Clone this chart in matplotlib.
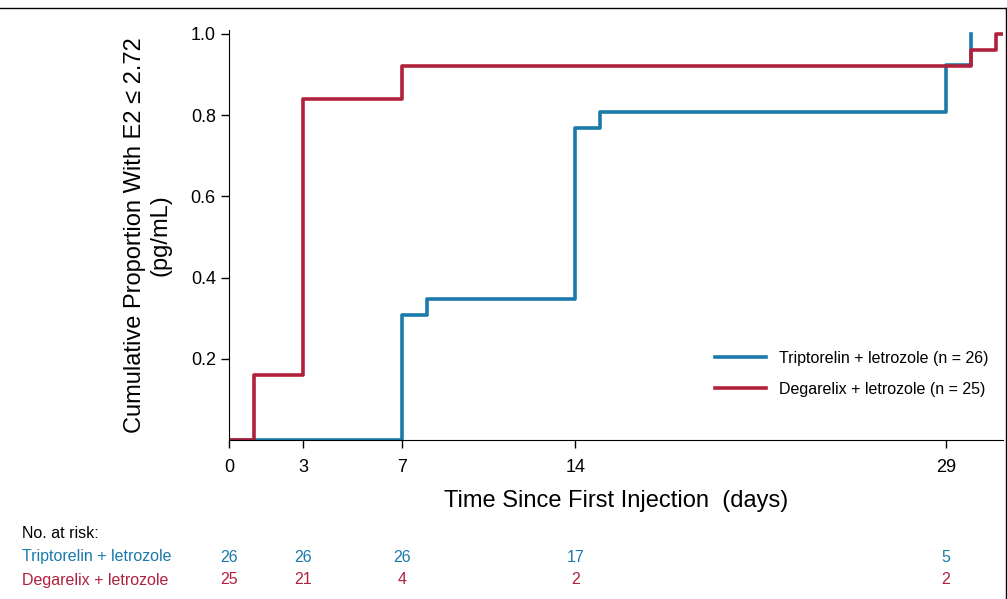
import matplotlib.pyplot as plt
from matplotlib.lines import Line2D
from matplotlib.transforms import blended_transform_factory

plt.rcParams['font.family'] = ['Liberation Sans', 'DejaVu Sans']

# step data (time in days, cumulative proportion)
trip_t = [0, 7, 8, 14, 15, 29, 30, 30]
trip_y = [0, 0.308, 0.346, 0.769, 0.808, 0.923, 1.0, 1.0]
dega_t = [0, 1, 3, 7, 30, 31, 31.3]
dega_y = [0, 0.16, 0.84, 0.92, 0.96, 1.0, 1.0]

risk_times = [0, 3, 7, 14, 29]
trip_risk = [26, 26, 26, 17, 5]
dega_risk = [25, 21, 4, 2, 2]

blue = '#1a7aab'
red = '#b0213c'

fig = plt.figure(figsize=(10.07, 5.99), dpi=100)
ax = fig.add_axes([0.2274, 0.2654, 0.7686, 0.685])

ax.step(trip_t, trip_y, where='post', color=blue, lw=2.6, label='Triptorelin + letrozole (n = 26)')
ax.step(dega_t, dega_y, where='post', color=red, lw=2.6, label='Degarelix + letrozole (n = 25)')

ax.set_xlim(0, 31.3)
ax.set_ylim(0, 1.01)
ax.set_xticks(risk_times)
ax.set_yticks([0.2, 0.4, 0.6, 0.8, 1.0])
ax.set_yticklabels(['0.2', '0.4', '0.6', '0.8', '1.0'])
ax.tick_params(labelsize=13, direction='out', length=6, width=1)
ax.tick_params(axis='x', pad=8)
ax.spines['top'].set_visible(False)
ax.spines['right'].set_visible(False)
ax.set_xlabel('Time Since First Injection  (days)', fontsize=17, labelpad=10)
ax.set_ylabel('Cumulative Proportion With E2 ≤ 2.72\n(pg/mL)', fontsize=17, labelpad=14)
ax.legend(loc='lower right', bbox_to_anchor=(1.0, 0.07), frameon=False, fontsize=11.5,
          handlelength=3.2, labelspacing=1.0)

# number at risk table
fig.text(22 / 1007, 1 - 534 / 599, 'No. at risk:', fontsize=11.5, va='center')
fig.text(22 / 1007, 1 - 557 / 599, 'Triptorelin + letrozole', fontsize=11.5, va='center', color=blue)
fig.text(22 / 1007, 1 - 580 / 599, 'Degarelix + letrozole', fontsize=11.5, va='center', color=red)
tr = blended_transform_factory(ax.transData, fig.transFigure)
for t, a, b in zip(risk_times, trip_risk, dega_risk):
    ax.text(t, 1 - 557 / 599, str(a), transform=tr, ha='center', va='center',
            fontsize=11.5, color=blue, clip_on=False)
    ax.text(t, 1 - 580 / 599, str(b), transform=tr, ha='center', va='center',
            fontsize=11.5, color=red, clip_on=False)

# figure frame (top and right)
fig.add_artist(Line2D([0, 1006 / 1007], [1 - 8 / 599] * 2, color='black', lw=1))
fig.add_artist(Line2D([1006 / 1007] * 2, [1 - 8 / 599, 0], color='black', lw=1))

fig.savefig('out.png', dpi=100)
